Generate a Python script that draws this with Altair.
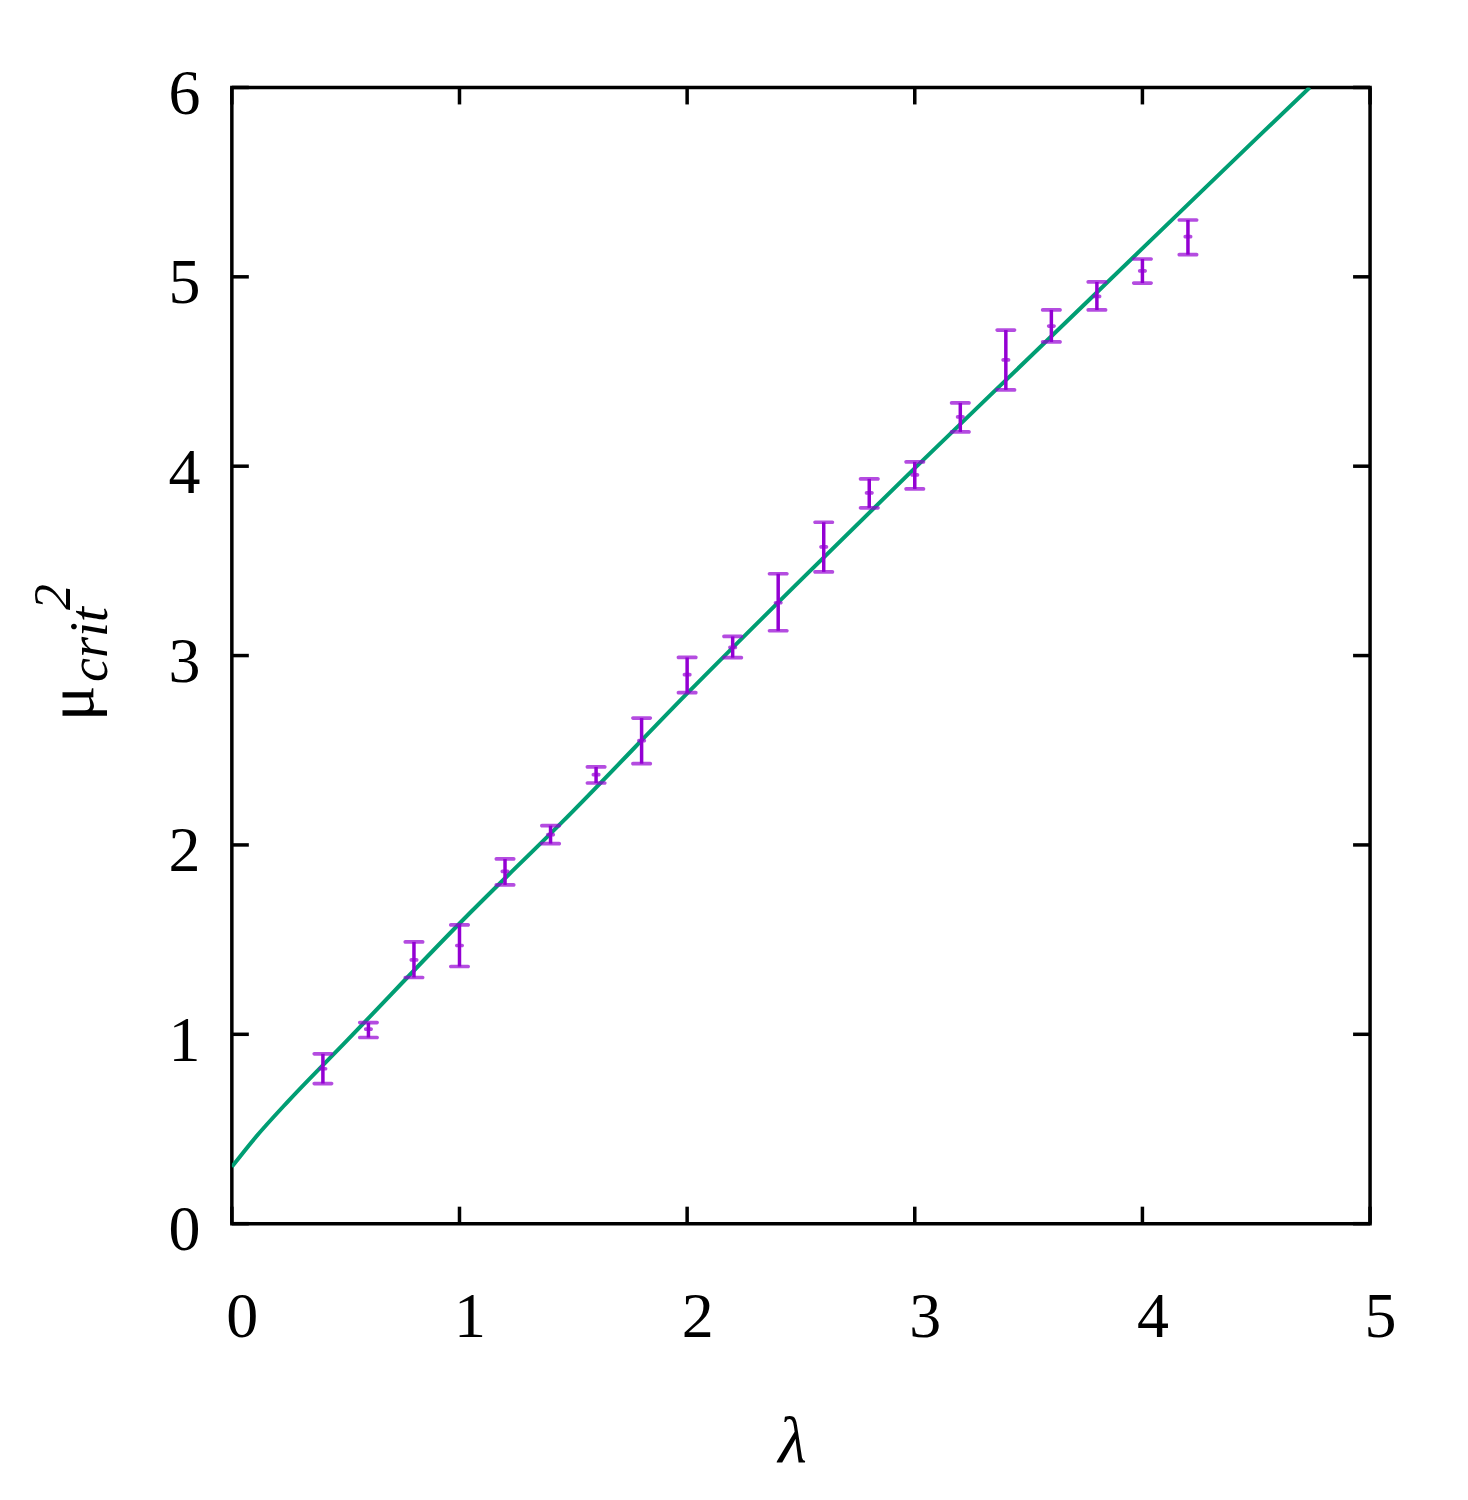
import altair as alt
import pandas as pd

# ---- data ----
lam = [0.4, 0.6, 0.8, 1.0, 1.2, 1.4, 1.6, 1.8, 2.0, 2.2,
       2.4, 2.6, 2.8, 3.0, 3.2, 3.4, 3.6, 3.8, 4.0, 4.2]
mu_c = [0.818, 1.027, 1.393, 1.469, 1.860, 2.054, 2.371, 2.551, 2.899, 3.043,
        3.279, 3.574, 3.859, 3.954, 4.260, 4.561, 4.740, 4.897, 5.031, 5.212]
mu_lo = [0.740, 0.983, 1.300, 1.358, 1.789, 2.007, 2.327, 2.429, 2.804, 2.989,
         3.131, 3.442, 3.780, 3.880, 4.181, 4.403, 4.656, 4.825, 4.967, 5.117]
mu_hi = [0.897, 1.062, 1.488, 1.578, 1.926, 2.102, 2.412, 2.670, 2.990, 3.101,
         3.432, 3.704, 3.933, 4.023, 4.334, 4.719, 4.825, 4.973, 5.094, 5.300]

fit_x = [0.0, 0.1, 0.25, 0.5, 1.0, 1.5, 2.0, 2.5, 3.0, 3.5, 4.0, 4.5, 4.735]
fit_y = [0.30, 0.45, 0.65, 0.96, 1.585, 2.18, 2.80, 3.40, 3.99, 4.57, 5.15, 5.73, 6.0]

x_ticks = [0, 1, 2, 3, 4, 5]
y_ticks = [0, 1, 2, 3, 4, 5, 6]

W, H = 1139, 1137
TL = 17
PURPLE = "#9400D3"
GREEN = "#009E73"
FONT = "Liberation Serif, Times New Roman, serif"

pts = pd.DataFrame({"lam": lam, "mu": mu_c, "lo": mu_lo, "hi": mu_hi})
fit = pd.DataFrame({"lam": fit_x, "mu": fit_y})
xt = pd.DataFrame({"v": x_ticks})
yt = pd.DataFrame({"v": y_ticks})

xs = alt.Scale(domain=[0, 5], nice=False, zero=False)
ys = alt.Scale(domain=[0, 6], nice=False, zero=False)

xaxis = alt.Axis(values=x_ticks, format="d", title=None, grid=False, ticks=False, tickSize=0,
                 domain=False, labelFont=FONT, labelFontSize=64, labelColor="black",
                 labelFlush=False, labelOverlap=False,
                 labelBaseline="alphabetic", labelPadding=113, labelOffset=10)
yaxis = alt.Axis(values=y_ticks, format="d", title=None, grid=False, ticks=False, tickSize=0,
                 domain=False, labelFont=FONT, labelFontSize=64, labelColor="black",
                 labelFlush=False, labelOverlap=False,
                 labelBaseline="alphabetic", labelPadding=32, labelOffset=26)

base = alt.Chart(fit).mark_line(color=GREEN, strokeWidth=4, clip=True,
                                interpolate="monotone").encode(
    x=alt.X("lam:Q", scale=xs, axis=xaxis),
    y=alt.Y("mu:Q", scale=ys, axis=yaxis),
)

bars = alt.Chart(pts).mark_rule(color=PURPLE, strokeWidth=3.5).encode(
    x=alt.X("lam:Q", scale=xs), y=alt.Y("lo:Q", scale=ys), y2="hi:Q")
cap_lo = alt.Chart(pts).mark_tick(color=PURPLE, orient="horizontal", size=21,
                                  thickness=3.7, cornerRadius=1.8).encode(
    x=alt.X("lam:Q", scale=xs), y=alt.Y("lo:Q", scale=ys))
cap_hi = alt.Chart(pts).mark_tick(color=PURPLE, orient="horizontal", size=21,
                                  thickness=3.7, cornerRadius=1.8).encode(
    x=alt.X("lam:Q", scale=xs), y=alt.Y("hi:Q", scale=ys))
dots = alt.Chart(pts).mark_tick(color=PURPLE, orient="horizontal", size=9,
                                thickness=3.7, cornerRadius=1.8).encode(
    x=alt.X("lam:Q", scale=xs), y=alt.Y("mu:Q", scale=ys))

tick_style = dict(color="black", strokeWidth=3.5)
xt_bot = alt.Chart(xt).mark_rule(**tick_style).encode(
    x=alt.X("v:Q", scale=xs), y=alt.value(H), y2=alt.value(H - TL))
xt_top = alt.Chart(xt).mark_rule(**tick_style).encode(
    x=alt.X("v:Q", scale=xs), y=alt.value(0), y2=alt.value(TL))
yt_left = alt.Chart(yt).mark_rule(**tick_style).encode(
    y=alt.Y("v:Q", scale=ys), x=alt.value(0), x2=alt.value(TL))
yt_right = alt.Chart(yt).mark_rule(**tick_style).encode(
    y=alt.Y("v:Q", scale=ys), x=alt.value(W), x2=alt.value(W - TL))

one = pd.DataFrame({"a": [0]})
lam_title = alt.Chart(one).mark_text(text="λ", font=FONT, fontSize=66, fontStyle="italic",
                                     align="center", baseline="alphabetic",
                                     color="black").encode(
    x=alt.value(561), y=alt.value(1375))
mu_t = alt.Chart(one).mark_text(text="μ", font=FONT, fontSize=66, angle=270,
                                align="left", baseline="alphabetic",
                                color="black").encode(
    x=alt.value(-139), y=alt.value(634))
crit_t = alt.Chart(one).mark_text(text="crit", font=FONT, fontSize=54, fontStyle="italic",
                                  angle=270, align="left", baseline="alphabetic",
                                  color="black").encode(
    x=alt.value(-125), y=alt.value(595))
sq_t = alt.Chart(one).mark_text(text="2", font=FONT, fontSize=52, fontStyle="italic",
                                angle=270, align="left", baseline="alphabetic",
                                color="black").encode(
    x=alt.value(-162), y=alt.value(523))

chart = alt.layer(
    base, bars, cap_lo, cap_hi, dots,
    xt_bot, xt_top, yt_left, yt_right,
    lam_title, mu_t, crit_t, sq_t,
).properties(
    width=W, height=H,
    background="white",
    autosize=alt.AutoSizeParams(type="none"),
    padding={"left": 224, "top": 79, "right": 90, "bottom": 260},
).configure_view(
    stroke="black", strokeWidth=3.5
)

chart.save("out.html", embed_options={"renderer": "svg", "actions": False})
